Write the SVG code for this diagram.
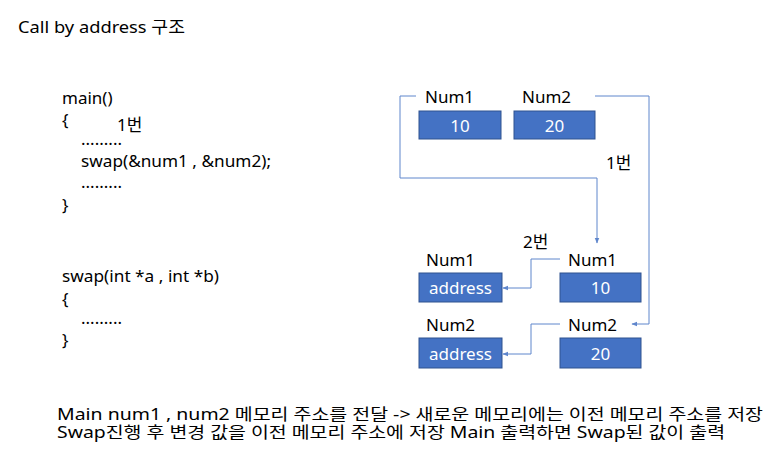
<svg xmlns="http://www.w3.org/2000/svg" width="780" height="469" viewBox="0 0 780 469">
<defs>
<style>
text{font-family:"Noto Sans","Noto Sans CJK KR",sans-serif;fill:#000;}
.t{font-size:17px;}
.n{font-size:15.5px;}
.bt{font-size:17px;fill:#fff;text-anchor:middle;}
.box{fill:#4472C4;stroke:#2F528F;stroke-width:1;}
.ln{fill:none;stroke:#4472C4;stroke-width:1;opacity:0.85;}
</style>
<marker id="ah" viewBox="0 0 10 10" refX="9" refY="5" markerWidth="6" markerHeight="6" orient="auto" markerUnits="userSpaceOnUse">
<path d="M0,1 L10,5 L0,9 z" fill="#4472C4"/>
</marker>
</defs>
<rect width="780" height="469" fill="#fff"/>
<text class="t" x="18" y="33" textLength="167" lengthAdjust="spacingAndGlyphs">Call by address 구조</text>
<g id="code">
<text class="t" x="62" y="104">main()</text>
<text class="t" x="62" y="126">{</text>
<text class="t" x="117" y="131">1번</text>
<text class="t" x="81" y="145">.........</text>
<text class="t" x="81" y="167" textLength="190" lengthAdjust="spacingAndGlyphs">swap(&amp;num1 , &amp;num2);</text>
<text class="t" x="81" y="188">.........</text>
<text class="t" x="62" y="211">}</text>
<text class="t" x="62" y="282" textLength="157" lengthAdjust="spacingAndGlyphs">swap(int *a , int *b)</text>
<text class="t" x="62" y="305">{</text>
<text class="t" x="81" y="324">.........</text>
<text class="t" x="62" y="346">}</text>
</g>
<g id="main-num1">
<text class="t" x="425" y="103">Num1</text>
<rect class="box" x="419" y="111" width="82" height="28"/>
<text class="bt" x="460" y="132">10</text>
</g>
<g id="main-num2">
<text class="t" x="522" y="103">Num2</text>
<rect class="box" x="514" y="111" width="81" height="28"/>
<text class="bt" x="554.5" y="132">20</text>
</g>
<g id="ptr-num1">
<text class="t" x="426" y="266">Num1</text>
<rect class="box" x="419" y="273" width="83" height="29"/>
<text class="bt" x="460.5" y="294">address</text>
</g>
<g id="ptr-num2">
<text class="t" x="426" y="331">Num2</text>
<rect class="box" x="419" y="338" width="83" height="30"/>
<text class="bt" x="460.5" y="360">address</text>
</g>
<g id="val-num1">
<text class="t" x="568" y="266">Num1</text>
<rect class="box" x="560" y="273" width="81" height="29"/>
<text class="bt" x="600.5" y="294">10</text>
</g>
<g id="val-num2">
<text class="t" x="568" y="331">Num2</text>
<rect class="box" x="560" y="338" width="81" height="30"/>
<text class="bt" x="600.5" y="360">20</text>
</g>
<g id="connectors">
<polyline class="ln" points="416,96 400,96 400,178 597,178 597,243" marker-end="url(#ah)"/>
<polyline class="ln" points="595,96 649,96 649,324 632,324" marker-end="url(#ah)"/>
<polyline class="ln" points="560,259 531,259 531,288 503,288" marker-end="url(#ah)"/>
<polyline class="ln" points="560,324 531,324 531,354 503,354" marker-end="url(#ah)"/>
</g>
<text class="t" x="606" y="169">1번</text>
<text class="t" x="523" y="248">2번</text>
<g id="notes">
<text class="n" x="57" y="420" textLength="706" lengthAdjust="spacingAndGlyphs">Main num1 , num2 메모리 주소를 전달 -&gt; 새로운 메모리에는 이전 메모리 주소를 저장</text>
<text class="n" x="57" y="438" textLength="668" lengthAdjust="spacingAndGlyphs">Swap진행 후 변경 값을 이전 메모리 주소에 저장 Main 출력하면 Swap된 값이 출력</text>
</g>
</svg>
